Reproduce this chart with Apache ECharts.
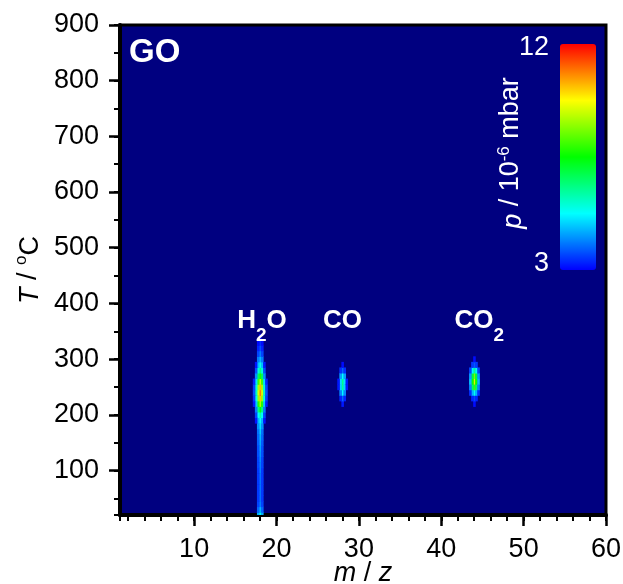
<!DOCTYPE html>
<html>
<head>
<meta charset="utf-8">
<title>GO - TPD mass spectra</title>
<script src="https://cdn.jsdelivr.net/npm/echarts@6/dist/echarts.min.js"></script>
<style>
    html, body { margin: 0; padding: 0; background: #fff; }
    #chart { width: 623px; height: 584px; }
</style>
</head>
<body>
<div id="chart"></div>
<script>
(function () {
    'use strict';

    // m/z of the three traces and their labels
    var peakMz = [18, 28, 44];
    var peakLabels = ['{b|H}{s|2}{b|O}', '{b|CO}', '{b|CO}{s|2}'];

    // columns of each trace: peak centre, then +-0.25, +-0.5, +-0.75 m/z
    var mzOffsets = [0, 0.25, 0.5, 0.75];

    // H2O, m/z 18 : p / 10^-6 mbar per temperature row
    var h2oT = [20, 30, 40, 50, 60, 70, 80, 90, 100, 110, 120, 130, 140, 150, 160, 170, 180,
        190, 200, 210, 220, 230, 240, 250, 260, 270, 280, 290, 300, 310, 320, 330, 340];
    var h2oP0 = [5.4, 4.6, 4.1, 4.0, 4.0, 4.0, 4.0, 4.0, 4.1, 4.1, 4.2, 4.3, 4.4, 4.5, 4.6, 4.8, 5.0,
        5.3, 6.0, 7.4, 9.0, 10.3, 10.9, 10.4, 9.3, 7.7, 6.4, 5.4, 4.6, 4.1, 3.7, 3.4, 3.1];
    var h2oP1 = [4.5, 3.9, 3.6, 3.5, 3.5, 3.5, 3.5, 3.5, 3.5, 3.6, 3.6, 3.7, 3.7, 3.8, 3.9, 4.0, 4.3,
        4.6, 5.3, 6.4, 7.8, 8.9, 9.4, 9.0, 8.0, 6.7, 5.6, 4.7, 4.1, 3.6, 3.3, 3.1, 0];
    var h2oP2 = [0, 0, 0, 0, 0, 0, 0, 0, 0, 0, 0, 0, 0, 0, 0, 0, 0,
        3.2, 3.6, 4.1, 4.8, 5.5, 5.8, 5.6, 5.0, 4.3, 3.7, 3.2, 0, 0, 0, 0, 0];
    var h2oP3 = [0, 0, 0, 0, 0, 0, 0, 0, 0, 0, 0, 0, 0, 0, 0, 0, 0,
        0, 0, 0, 3.2, 3.5, 3.7, 3.6, 3.3, 0, 0, 0, 0, 0, 0, 0, 0];

    // CO, m/z 28
    var coT = [220, 230, 240, 250, 260, 270, 280, 290];
    var coP0 = [3.2, 3.9, 5.2, 6.2, 6.3, 5.3, 3.9, 3.1];
    var coP1 = [0, 3.3, 4.2, 4.9, 5.0, 4.4, 3.4, 0];
    var coP2 = [0, 0, 0, 3.2, 3.2, 0, 0, 0];

    // CO2, m/z 44
    var co2T = [220, 230, 240, 250, 260, 270, 280, 290, 300];
    var co2P0 = [3.1, 3.6, 5.4, 8.0, 9.4, 8.6, 6.2, 3.8, 3.1];
    var co2P1 = [0, 3.3, 4.6, 6.6, 7.6, 7.0, 5.2, 3.5, 0];
    var co2P2 = [0, 0, 3.4, 4.2, 4.7, 4.4, 3.6, 0, 0];

    var mzStep = 0.25;
    var tStep = 10;
    var labelT = 369;
    var labelShift = [2, 0, 5];
    var font = 'Arial, "Liberation Sans", sans-serif';
    var fs = 27;
    var jet = ['#0000ff', '#00ffff', '#00ff00', '#ffff00', '#ff0000'];

    var cells = [];
    function addTrace(mz, temps, cols) {
        cols.forEach(function (col, k) {
            col.forEach(function (p, i) {
                if (!p) return;
                cells.push([mz - mzOffsets[k], temps[i], p]);
                if (k > 0) cells.push([mz + mzOffsets[k], temps[i], p]);
            });
        });
    }
    addTrace(peakMz[0], h2oT, [h2oP0, h2oP1, h2oP2, h2oP3]);
    addTrace(peakMz[1], coT, [coP0, coP1, coP2]);
    addTrace(peakMz[2], co2T, [co2P0, co2P1, co2P2]);

    function majorAxis(extra) {
        var axis = {
            type: 'value',
            nameMoveOverlap: false,
            axisLine: { lineStyle: { color: '#000', width: 4 } },
            axisTick: { length: 11, lineStyle: { color: '#000', width: 2.5 } },
            splitLine: { show: false }
        };
        return Object.assign(axis, extra);
    }
    function minorAxis(extra) {
        var axis = {
            type: 'value',
            axisLine: { show: false },
            axisTick: { length: 6, lineStyle: { color: '#000', width: 2 } },
            axisLabel: { show: false },
            splitLine: { show: false }
        };
        return Object.assign(axis, extra);
    }
    function supRich(color, key) {
        var r = {
            i: { fontStyle: 'italic', fontSize: fs, lineHeight: 31, verticalAlign: 'bottom', fontFamily: font },
            n: { fontSize: fs, lineHeight: 31, verticalAlign: 'bottom', fontFamily: font },
            s: { fontSize: 17, lineHeight: 17, verticalAlign: 'top', fontFamily: font }
        };
        Object.keys(r).forEach(function (k) { r[k][key] = color; });
        return r;
    }

    var chart = echarts.init(document.getElementById('chart'));
    chart.setOption({
        backgroundColor: '#fff',
        animation: false,
        textStyle: { fontFamily: font },
        title: {
            text: 'GO', left: 124, top: 31,
            textStyle: { color: '#fff', fontSize: 33, fontWeight: 'bold', fontFamily: font }
        },
        grid: {
            left: 120, top: 25, right: 17, bottom: 69,
            outerBoundsMode: 'none', containLabel: false,
            show: true, backgroundColor: '#000080', borderColor: '#000', borderWidth: 3
        },
        xAxis: [
            majorAxis({
                min: 1, max: 60, splitNumber: 6, position: 'bottom',
                name: '{i|m} / {i|z}', nameLocation: 'middle', nameGap: 45,
                nameTextStyle: {
                    color: '#000', fontSize: fs, fontFamily: font,
                    rich: { i: { fontStyle: 'italic', fontSize: fs, fontFamily: font, color: '#000' } }
                },
                axisLabel: { color: '#000', fontSize: fs, fontFamily: font, margin: 21, showMinLabel: false }
            }),
            minorAxis({ min: 1, max: 60, splitNumber: 30, position: 'bottom' })
        ],
        yAxis: [
            majorAxis({
                min: 20, max: 900, splitNumber: 9, position: 'left',
                name: '{i|T} / {s|o}{n|C}', nameLocation: 'middle', nameRotate: 90, nameGap: 76,
                nameTextStyle: { color: '#000', fontSize: fs, fontFamily: font, rich: supRich('#000', 'color') },
                axisLabel: { color: '#000', fontSize: fs, fontFamily: font, margin: 21, showMinLabel: false }
            }),
            minorAxis({ min: 20, max: 900, splitNumber: 18, position: 'left' })
        ],
        visualMap: {
            type: 'continuous',
            seriesIndex: 0,
            dimension: 2,
            min: 3,
            max: 12,
            calculable: false,
            hoverLink: false,
            orient: 'vertical',
            left: 560,
            top: 44,
            itemWidth: 36,
            itemHeight: 226,
            padding: 0,
            inRange: { color: jet },
            outOfRange: { color: '#000080' }
        },
        graphic: [
            {
                type: 'text', x: 549, y: 48, z: 10,
                style: { text: '12', fill: '#fff', fontSize: fs, fontFamily: font, align: 'right', verticalAlign: 'middle' }
            },
            {
                type: 'text', x: 549, y: 264, z: 10,
                style: { text: '3', fill: '#fff', fontSize: fs, fontFamily: font, align: 'right', verticalAlign: 'middle' }
            },
            {
                type: 'text', x: 511, y: 153, rotation: Math.PI / 2, z: 10,
                style: {
                    text: '{i|p} / 10{s|-6} mbar',
                    fill: '#fff', fontSize: fs, fontFamily: font,
                    align: 'center', verticalAlign: 'middle',
                    rich: supRich('#fff', 'fill')
                }
            }
        ],
        series: [
            {
                type: 'custom',
                coordinateSystem: 'cartesian2d',
                clip: true,
                silent: true,
                encode: { x: 0, y: 1 },
                data: cells,
                renderItem: function (params, api) {
                    var mz = api.value(0), t = api.value(1);
                    var a = api.coord([mz - mzStep / 2, t + tStep / 2]);
                    var b = api.coord([mz + mzStep / 2, t - tStep / 2]);
                    return {
                        type: 'rect',
                        shape: { x: a[0], y: a[1], width: b[0] - a[0] + 0.5, height: b[1] - a[1] + 0.5 },
                        style: { fill: api.visual('color') }
                    };
                }
            },
            {
                type: 'scatter',
                symbolSize: 0,
                silent: true,
                itemStyle: { opacity: 1 },
                data: peakMz.map(function (mz, i) {
                    return { value: [mz, labelT], label: { offset: [labelShift[i], 0] } };
                }),
                label: {
                    show: true,
                    position: 'inside',
                    opacity: 1,
                    formatter: function (p) { return peakLabels[p.dataIndex]; },
                    rich: {
                        b: { color: '#fff', fontSize: 26, fontWeight: 'bold', lineHeight: 26, verticalAlign: 'top', fontFamily: font },
                        s: { color: '#fff', fontSize: 19, fontWeight: 'bold', lineHeight: 19, verticalAlign: 'top', padding: [19, 0, 0, 0], fontFamily: font }
                    }
                }
            }
        ]
    });
})();
</script>
</body>
</html>
